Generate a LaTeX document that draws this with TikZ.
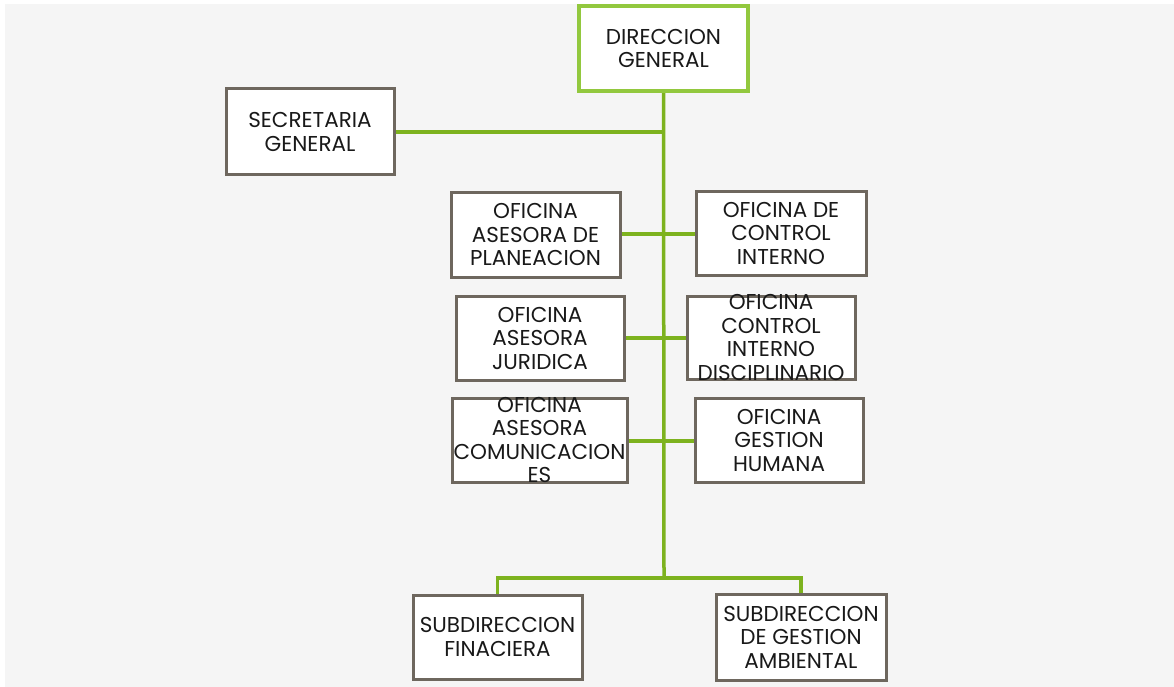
\documentclass[tikz,border=0pt]{standalone}
\usepackage{fontspec}
\setmainfont{Poppins}
\usetikzlibrary{backgrounds}
\pgfdeclarelayer{bottom}
\pgfsetlayers{bottom,background,main}
\definecolor{bg}{RGB}{245,245,245}
\definecolor{linegreen}{RGB}{125,178,30}
\definecolor{boxgreen}{RGB}{146,200,62}
\definecolor{boxgray}{RGB}{110,103,94}
\definecolor{txt}{RGB}{25,25,25}
\tikzset{
  orgbox/.style={draw=boxgray, line width=3pt, fill=white, inner sep=0pt},
  topbox/.style={draw=boxgreen, line width=3.5pt, fill=white, inner sep=0pt},
  lbl/.style={align=center, text=txt, font=\fontsize{21.5}{23.5}\selectfont, inner sep=0pt},
  conn/.style={draw=linegreen, line width=3.5pt},
}
\newcommand{\orgnode}[7]{% style, name, x1, y1, x2, y2, text
  \node[#1, minimum width={#5-#3}, minimum height={#6-#4}] (#2) at ({(#3+#5)/2},{(#4+#6)/2}) {};
  \node[lbl] (#2t) at (#2.center) {#7};
}
\begin{document}
\begin{tikzpicture}[x=1pt, y=-1pt]
\useasboundingbox (0,0) rectangle (1174,687);
\begin{pgfonlayer}{bottom}
\fill[bg] (5,4) rectangle (1174,687);
\end{pgfonlayer}
\coordinate (trunkend) at (664,578);
\coordinate (bl) at (497.5,578);
\coordinate (br) at (801,578);
\coordinate (sgj) at (664,132);
\coordinate (j1) at (664,234);
\coordinate (j2) at (664,338);
\coordinate (j3) at (664,441);
\orgnode{topbox}{dg}{579}{6}{748}{91}{DIRECCION\\GENERAL}
\orgnode{orgbox}{sg}{226}{89}{394}{175}{SECRETARIA\\GENERAL}
\orgnode{orgbox}{pl}{451}{192}{620}{277}{OFICINA\\ASESORA DE\\PLANEACION}
\orgnode{orgbox}{ci}{696}{191}{866}{275}{OFICINA DE\\CONTROL\\INTERNO}
\orgnode{orgbox}{ju}{456}{296}{624}{380}{OFICINA\\ASESORA\\JURIDICA}
\orgnode{orgbox}{di}{687}{296}{855}{379}{OFICINA\\CONTROL\\INTERNO\\DISCIPLINARIO}
\orgnode{orgbox}{co}{452}{398}{627}{482}{OFICINA\\ASESORA\\COMUNICACION\\ES}
\orgnode{orgbox}{gh}{695}{398}{863}{482}{OFICINA\\GESTION\\HUMANA}
\orgnode{orgbox}{sf}{413}{595}{582}{679}{SUBDIRECCION\\FINACIERA}
\orgnode{orgbox}{sa}{716}{594}{886}{680}{SUBDIRECCION\\DE GESTION\\AMBIENTAL}
\begin{pgfonlayer}{background}
\draw[conn] (dg.south) -- (trunkend);
\draw[conn] (sg.east) -- (sgj);
\draw[conn] (pl.east |- j1) -- (ci.west |- j1);
\draw[conn] (ju.east |- j2) -- (di.west |- j2);
\draw[conn] (co.east |- j3) -- (gh.west |- j3);
\draw[conn] (sf.north) -- (bl) -- (br) -- (sa.north);
\end{pgfonlayer}
\end{tikzpicture}
\end{document}
